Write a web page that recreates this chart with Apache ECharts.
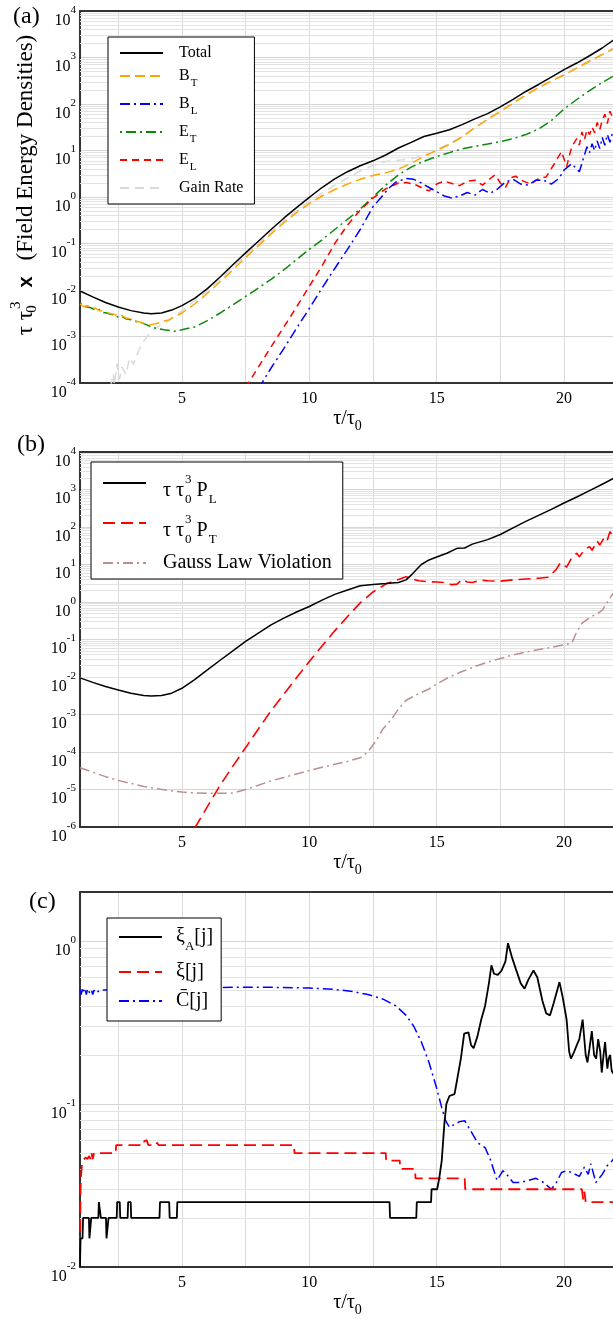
<!DOCTYPE html>
<html><head><meta charset="utf-8">
<script src="https://cdn.jsdelivr.net/npm/echarts@6/dist/echarts.min.js"></script>
<style>html,body{margin:0;padding:0;background:#fff}#c{width:613px;height:1319px}</style>
</head><body><div id="c"></div>
<script>
// ================= DATA =================
const xTickLabels = [5, 10, 15, 20];
const xGridLines = [2.5, 5, 7.5, 10, 12.5, 15, 17.5, 20];

// ---- Panel (a): field energy densities ----
const aX = [1.0,1.5,2.0,2.5,3.0,3.5,3.8,4.2,4.6,5.0,5.5,6.0,6.5,7.0,7.5,8.0,8.5,9.0,9.5,10.0,10.5,11.0,11.5,12.0,12.5,13.0,13.5,14.0,14.5,15.0,15.5,16.0,16.5,17.0,17.5,18.0,18.5,19.0,19.5,20.0,20.5,21.0,21.5,22.0];
const aTotal = [0.0095,0.0071,0.0054,0.0043,0.0036,0.0032,0.0031,0.0032,0.0037,0.0046,0.0066,0.0107,0.019,0.035,0.063,0.112,0.20,0.35,0.59,0.98,1.6,2.45,3.5,4.7,6.0,8.0,11.3,15.0,20.0,23.4,28,36,48,62,87,126,186,263,380,550,760,1090,1600,2500];

const bTX = [1.0,1.15,1.3,1.45,1.6,1.75,1.9,2.05,2.2,2.35,2.5,2.65,2.8,2.95,3.1,3.25,3.4,3.6,3.8,4.0,4.5,5.0,5.5,6.0,6.5,7.0,7.5,8.0,8.5,9.0,9.5,10.0,10.5,11.0,11.5,12.0,12.5,13.0,13.5,14.0,14.5,15.0,15.5,16.0,16.5,17.0,17.5,18.0,18.5,19.0,19.5,20.0,20.5,21.0,21.5,22.0];
const bT = [0.0050,0.0044,0.0046,0.0040,0.0041,0.0036,0.0035,0.0033,0.0031,0.0030,0.0027,0.0028,0.0025,0.0024,0.0023,0.0021,0.0020,0.0018,0.0018,0.0019,0.0023,0.0032,0.0050,0.0085,0.0150,0.027,0.050,0.090,0.16,0.28,0.46,0.72,1.05,1.45,1.9,2.4,2.9,3.3,4.0,5.3,7.5,10.0,13.5,19.5,31,47,68,104,155,225,310,420,590,830,1150,1600];

const bLX = [8.0,8.5,9.0,9.5,10.0,10.5,11.0,11.5,12.0,12.5,12.8,13.1,13.4,13.8,14.1,14.4,14.7,15.0,15.3,15.6,15.9,16.2,16.5,16.8,17.1,17.4,17.7,18.0,18.3,18.6,18.9,19.2,19.5,19.8,20.0,20.3,20.6,20.9,21.0,21.1,21.2,21.3,21.4,21.5,21.6,21.7,21.8,21.9,22.0];
const bL = [7.5e-5,2.1e-4,5.5e-4,1.5e-3,4.0e-3,0.011,0.029,0.075,0.20,0.62,0.95,1.5,2.1,2.5,2.4,2.0,1.6,1.3,1.05,0.95,1.05,1.25,1.1,1.45,1.2,1.5,2.1,2.4,1.9,1.8,2.3,2.3,1.9,2.5,3.8,5.2,3.5,12,9,14,10,16,11,19,13,22,15,24,20];

const eTX = [1.0,1.15,1.3,1.45,1.6,1.75,1.9,2.05,2.2,2.35,2.5,2.65,2.8,3.0,3.2,3.4,3.6,3.8,4.0,4.3,4.7,5.0,5.5,6.0,6.5,7.0,7.5,8.0,8.5,9.0,9.5,10.0,10.5,11.0,11.5,12.0,12.5,13.0,13.5,14.0,14.5,15.0,15.5,16.0,16.5,17.0,17.5,18.0,18.5,19.0,19.5,20.0,20.5,21.0,21.5,22.0];
const eT = [0.0052,0.0045,0.0043,0.0041,0.0037,0.0038,0.0033,0.0032,0.0030,0.0029,0.0026,0.0027,0.0024,0.0023,0.0021,0.0020,0.0018,0.0016,0.0015,0.0014,0.0013,0.0014,0.0016,0.0022,0.0032,0.0048,0.0073,0.011,0.017,0.027,0.045,0.075,0.12,0.20,0.33,0.55,1.0,1.8,3.0,4.4,5.9,7.4,9.0,10.8,12.3,13.8,15.5,18,22,29,44,78,125,195,290,420];

const eLX = [7.5,8.0,8.5,9.0,9.5,10.0,10.5,11.0,11.5,12.0,12.5,13.0,13.5,13.8,14.1,14.4,14.7,15.0,15.3,15.6,15.9,16.2,16.5,16.8,17.1,17.3,17.5,17.7,17.9,18.1,18.4,18.7,19.0,19.3,19.6,19.9,20.1,20.3,20.5,20.6,20.7,20.8,20.9,21.0,21.1,21.2,21.3,21.4,21.5,21.6,21.7,21.8,21.9,22.0];
const eL = [8e-5,2.2e-4,6.0e-4,1.6e-3,4.3e-3,0.012,0.033,0.10,0.25,0.52,0.95,1.5,2.0,2.05,1.9,1.6,1.35,1.9,2.2,1.95,1.75,2.2,2.3,1.8,2.5,3.0,2.0,1.6,2.6,2.8,2.2,1.9,2.5,2.7,5.0,9.5,4.5,12,18,13,25,17,28,22,32,24,40,28,45,60,38,70,52,75];

const gX = [2.2,2.3,2.35,2.45,2.55,2.65,2.8,2.95,3.1,3.3,3.5,3.8,4.1,4.5,5.0,5.5,6.0,6.5,7.0,7.5,8.0,9.0,10.0,11.0,12.0,12.5,13.0,13.5,14.0,14.5,15.0,16.0,17.0,18.0,19.0,20.0,21.0,22.0];
const gain = [8e-5,1.6e-4,9e-5,2.6e-4,1.2e-4,2.2e-4,1.5e-4,3.5e-4,2.5e-4,5e-4,8e-4,1.3e-3,1.7e-3,2.2e-3,3.6e-3,5.8e-3,9.5e-3,0.017,0.031,0.056,0.10,0.31,0.80,1.8,3.6,4.8,5.8,6.2,6.6,7.8,10.2,20,47,108,232,430,850,1650];

// ---- Panel (b): pressures & Gauss law ----
const pLX = [1.0,1.5,2.0,2.5,3.0,3.5,3.8,4.2,4.6,5.0,5.5,6.0,6.5,7.0,7.5,8.0,8.5,9.0,9.5,10.0,10.5,11.0,11.5,12.0,12.5,13.0,13.5,13.8,14.0,14.2,14.4,14.7,15.0,15.4,15.8,16.1,16.4,17.0,17.5,18.0,18.5,19.0,19.5,20.0,20.5,21.0,21.5,22.0];
const pL = [0.0095,0.0072,0.0056,0.0045,0.0037,0.0032,0.0031,0.0032,0.0037,0.0050,0.0085,0.0155,0.028,0.050,0.089,0.148,0.245,0.37,0.54,0.76,1.12,1.6,2.1,2.7,2.95,3.1,3.3,3.9,5.2,7.2,10,13.2,15.8,20,27,27.5,35,46,63,95,141,204,295,437,630,933,1380,2090];

const pTX = [5.5,6.0,6.5,7.0,7.5,8.0,8.5,9.0,9.5,10.0,10.5,11.0,11.5,12.0,12.5,13.0,13.5,13.8,14.0,14.3,14.6,15.0,15.3,15.6,15.8,16.0,16.2,16.4,16.7,17.0,17.5,18.0,18.5,19.0,19.4,19.7,19.85,20.0,20.1,20.3,20.5,20.6,20.8,21.0,21.1,21.3,21.4,21.6,21.7,21.8,21.9,22.0];
const pT = [9.3e-7,3.5e-6,1.3e-5,4.2e-5,1.3e-4,4.1e-4,1.26e-3,3.5e-3,9.5e-3,0.026,0.067,0.17,0.41,0.95,1.85,3.0,4.0,4.7,4.2,3.7,3.5,3.4,3.3,2.9,3.0,4.0,3.4,3.3,3.8,3.7,3.6,3.9,4.1,4.3,4.6,7.5,11,9.5,8.5,15,20,16,25,30,24,42,33,55,45,75,60,90];

const gaX = [1.0,1.5,2.0,2.5,3.0,3.5,4.0,4.5,5.0,5.5,6.0,6.5,7.0,7.5,8.0,8.5,9.0,9.5,10.0,10.5,11.0,11.5,12.0,12.3,12.6,12.9,13.2,13.5,13.8,14.3,14.7,15.0,15.5,16.0,16.5,17.0,17.5,18.0,18.5,19.0,19.5,20.0,20.3,20.5,20.7,21.0,21.3,21.5,21.7,21.9,22.0];
const gauss = [3.8e-5,2.9e-5,2.2e-5,1.75e-5,1.45e-5,1.2e-5,1.05e-5,9.3e-6,8.6e-6,8.1e-6,7.9e-6,7.9e-6,8.1e-6,1.0e-5,1.3e-5,1.7e-5,2.1e-5,2.6e-5,3.2e-5,3.9e-5,4.7e-5,5.6e-5,7.0e-5,1.0e-4,1.9e-4,4.2e-4,7.1e-4,1.4e-3,2.4e-3,3.6e-3,4.8e-3,6.5e-3,0.010,0.014,0.019,0.025,0.031,0.039,0.046,0.054,0.062,0.072,0.08,0.16,0.27,0.38,0.49,0.6,1.0,1.6,1.9];

// ---- Panel (c): xi_A, xi, C-bar ----
const xiAX = [1.0,1.02,1.1,1.12,1.35,1.37,1.42,1.44,1.72,1.74,1.8,1.82,2.02,2.04,2.1,2.12,2.44,2.46,2.56,2.58,2.87,2.89,2.99,3.01,4.12,4.14,4.5,4.52,4.8,4.82,13.15,13.17,14.2,14.22,14.78,14.8,15.02,15.1,15.2,15.3,15.38,15.5,15.7,15.8,15.95,16.08,16.25,16.35,16.45,16.6,16.75,16.9,17.05,17.15,17.25,17.4,17.55,17.7,17.8,17.95,18.1,18.3,18.45,18.6,18.8,18.95,19.15,19.3,19.45,19.6,19.82,19.95,20.1,20.2,20.27,20.4,20.5,20.6,20.73,20.85,20.92,21.0,21.09,21.18,21.26,21.34,21.42,21.48,21.55,21.61,21.7,21.75,21.81,21.87,21.93,22.0];
const xiA = [0.01,0.015,0.015,0.02,0.02,0.015,0.015,0.02,0.02,0.025,0.025,0.02,0.02,0.015,0.015,0.02,0.02,0.025,0.025,0.02,0.02,0.025,0.025,0.02,0.02,0.025,0.025,0.02,0.02,0.025,0.025,0.02,0.02,0.025,0.025,0.03,0.03,0.035,0.045,0.075,0.1,0.112,0.115,0.14,0.19,0.27,0.275,0.23,0.22,0.26,0.33,0.4,0.55,0.71,0.63,0.62,0.66,0.75,0.97,0.8,0.68,0.55,0.51,0.58,0.66,0.6,0.43,0.36,0.35,0.42,0.56,0.45,0.33,0.21,0.19,0.21,0.23,0.25,0.33,0.2,0.18,0.22,0.28,0.2,0.19,0.25,0.21,0.156,0.2,0.24,0.165,0.19,0.2,0.16,0.154,0.17];

const xiX = [1.0,1.02,1.04,1.08,1.12,1.18,1.22,1.3,1.35,1.42,1.45,1.5,1.55,2.4,2.42,3.5,3.52,3.62,3.68,4.0,4.02,4.08,9.4,9.42,13.0,13.02,13.55,13.57,14.15,14.17,16.1,16.12,20.7,20.75,20.8,20.85,22.0];
const xi = [0.01,0.03,0.036,0.043,0.045,0.044,0.047,0.046,0.048,0.046,0.05,0.046,0.05,0.05,0.056,0.056,0.059,0.06,0.056,0.056,0.058,0.056,0.056,0.05,0.05,0.045,0.045,0.04,0.04,0.035,0.035,0.03,0.03,0.026,0.029,0.025,0.025];

const cX = [1.0,1.05,1.1,1.15,1.2,1.25,1.3,1.38,1.45,1.5,1.55,1.6,1.7,1.8,2.0,3.0,5.0,7.0,8.6,10.0,11.0,11.7,12.3,12.9,13.4,13.8,14.1,14.4,14.7,15.0,15.2,15.35,15.5,15.7,15.9,16.1,16.3,16.6,16.9,17.1,17.37,17.6,17.75,18.0,18.3,18.6,18.9,19.2,19.5,19.7,19.9,20.1,20.3,20.6,20.8,20.95,21.05,21.25,21.5,21.7,21.9,22.0];
const cbar = [0.5,0.47,0.52,0.48,0.5,0.47,0.51,0.48,0.5,0.47,0.5,0.48,0.49,0.5,0.5,0.505,0.515,0.52,0.52,0.515,0.505,0.49,0.47,0.44,0.40,0.35,0.30,0.24,0.18,0.125,0.095,0.079,0.072,0.075,0.078,0.079,0.07,0.058,0.054,0.046,0.034,0.039,0.037,0.033,0.033,0.034,0.035,0.033,0.03,0.033,0.038,0.039,0.038,0.036,0.041,0.037,0.043,0.033,0.037,0.042,0.045,0.048];

// ================= CHART =================
const FONT = 'Liberation Serif';
const zip = (xs, ys) => xs.map((x, i) => [x, ys[i]]);

function minorLines(minExp, maxExp, maxVal) {
  const out = [];
  for (let e = minExp; e < maxExp; e++) {
    for (let m = 2; m <= 9; m++) {
      const v = m * Math.pow(10, e);
      if (v < maxVal) out.push({ yAxis: v });
    }
  }
  return out;
}
function minorMark(minExp, maxExp, maxVal) {
  return {
    silent: true, symbol: 'none', z: 1, animation: false,
    label: { show: false }, emphasis: { disabled: true },
    lineStyle: { color: '#e3e3e3', width: 1, type: 'solid' },
    data: minorLines(minExp, maxExp, maxVal)
  };
}

const labelRich = {
  b: { fontFamily: FONT, fontSize: 16, lineHeight: 24, verticalAlign: 'bottom', color: '#000' },
  s: { fontFamily: FONT, fontSize: 11, lineHeight: 11, verticalAlign: 'top', color: '#000' }
};
function logLabel(v) {
  const e = Math.log10(v), r = Math.round(e);
  if (Math.abs(e - r) > 0.01) return '';
  return '{b|10}{s|' + r + '}';
}
const xNameRich = {
  t: { fontFamily: FONT, fontSize: 20, lineHeight: 20, verticalAlign: 'top', color: '#000' },
  s: { fontFamily: FONT, fontSize: 14, lineHeight: 14, padding: [10, 0, 0, 0], verticalAlign: 'top', color: '#000' }
};

function xAxes(gi) {
  return [{
    type: 'value', gridIndex: gi, min: 1, max: 22, position: 'bottom',
    axisLine: { show: true, onZero: false, lineStyle: { color: '#333', width: 2 } },
    axisTick: { show: false, customValues: xGridLines },
    axisLabel: { customValues: xTickLabels, margin: 8, fontFamily: FONT, fontSize: 16, color: '#000' },
    splitLine: { show: true, lineStyle: { color: '#dadada', width: 1 } },
    name: '{t|τ/τ}{s|0}', nameLocation: 'middle', nameGap: 26,
    nameTextStyle: { rich: xNameRich }
  }, {
    type: 'value', gridIndex: gi, min: 1, max: 22, position: 'top',
    axisLine: { show: true, onZero: false, lineStyle: { color: '#333', width: 2 } },
    axisTick: { show: false }, axisLabel: { show: false }, splitLine: { show: false }
  }];
}
function yAxis(gi, min, max, extra) {
  return Object.assign({
    type: 'log', logBase: 10, gridIndex: gi, min: min, max: max, splitNumber: 10,
    axisLine: { show: true, onZero: false, lineStyle: { color: '#333', width: 2 } },
    axisTick: { show: false },
    axisLabel: { margin: 4, padding: [11, 0, 0, 0], formatter: logLabel, rich: labelRich },
    splitLine: { show: true, lineStyle: { color: '#d5d5d5', width: 1 } },
    minorTick: { show: false }, minorSplitLine: { show: false }
  }, extra || {});
}

function line(name, xs, ys, xi, yi, color, dash, width, extra) {
  return Object.assign({
    type: 'line', name: name, data: zip(xs, ys), xAxisIndex: xi, yAxisIndex: yi,
    symbol: 'none', showSymbol: false, clip: true, z: 2, animation: false,
    emphasis: { disabled: true }, silent: true,
    lineStyle: { color: color, width: width || 1.5, type: dash || 'solid' },
    itemStyle: { color: color }
  }, extra || {});
}

const legendBase = {
  orient: 'vertical', selectedMode: false, backgroundColor: '#fff',
  borderColor: '#000', borderWidth: 1, borderRadius: 0,
  itemWidth: 43, itemHeight: 14, z: 10,
  itemStyle: { opacity: 0 }
};

const yNameRich = {
  t0: { fontFamily: FONT, fontSize: 23, lineHeight: 23, padding: [6, 0, 0, 24], verticalAlign: 'top', color: '#000' },
  sb: { fontFamily: FONT, fontSize: 15, lineHeight: 15, padding: [16, 0, 0, 2], verticalAlign: 'top', width: 0.01, color: '#000' },
  sp: { fontFamily: FONT, fontSize: 15, lineHeight: 15, padding: [0, 0, 0, 0], verticalAlign: 'top', color: '#000' },
  xx: { fontFamily: 'Liberation Sans', fontWeight: 'bold', fontSize: 20, lineHeight: 20, padding: [8, 16, 0, 14], verticalAlign: 'top', color: '#000' },
  t: { fontFamily: FONT, fontSize: 23, lineHeight: 23, padding: [6, 0, 0, 0], verticalAlign: 'top', color: '#000' }
};
const titleStyle = { fontFamily: FONT, fontSize: 24, fontWeight: 'normal', color: '#000' };

const option = {
  animation: false,
  backgroundColor: '#fff',
  title: [
    { text: '(a)', left: 13, top: 5, padding: 0, textStyle: titleStyle },
    { text: '(b)', left: 17, top: 433, padding: 0, textStyle: titleStyle },
    { text: '(c)', left: 29, top: 890, padding: 0, textStyle: titleStyle }
  ],
  grid: [
    { left: 80, right: -2, top: 11, height: 372, containLabel: false, outerBoundsMode: 'none' },
    { left: 80, right: -2, top: 452, height: 375, containLabel: false, outerBoundsMode: 'none' },
    { left: 80, right: -2, top: 892, height: 375, containLabel: false, outerBoundsMode: 'none' }
  ],
  xAxis: [].concat(xAxes(0), xAxes(1), xAxes(2)),
  yAxis: [
    yAxis(0, 1e-4, 1e4, {
      name: '{t0|τ τ}{sb|0}{sp|3}{xx|x}{t|(Field Energy Densities)}',
      nameLocation: 'middle', nameRotate: 90, nameGap: 43,
      nameTextStyle: { rich: yNameRich }
    }),
    yAxis(1, 1e-6, 9999.9),
    yAxis(2, 0.01, 2)
  ],
  legend: [
    Object.assign({}, legendBase, {
      left: 108, top: 37, padding: [8, 11, 8, 11], itemGap: 7,
      data: ['Total', 'B_T', 'B_L', 'E_T', 'E_L', 'Gain Rate'],
      formatter: n => n.indexOf('_') > 0 ? '{m|' + n.split('_')[0] + '}{s|' + n.split('_')[1] + '}' : '{p|' + n + '}',
      textStyle: {
        padding: [0, 0, 0, 11], color: '#000', fontFamily: FONT, fontSize: 16,
        rich: {
          p: { fontFamily: FONT, fontSize: 16, lineHeight: 16, color: '#000' },
          m: { fontFamily: FONT, fontSize: 16, lineHeight: 16, verticalAlign: 'top', color: '#000' },
          s: { fontFamily: FONT, fontSize: 11, lineHeight: 11, padding: [10, 0, 0, 1], verticalAlign: 'top', color: '#000' }
        }
      }
    }),
    Object.assign({}, legendBase, {
      left: 91, top: 462, padding: [11, 11, 6, 11], itemGap: 7,
      data: ['P_L', 'P_T', 'Gauss Law Violation'],
      formatter: n => n.indexOf('P_') === 0 ? '{m|τ τ}{sb|0}{sp|3}{m| P}{sb2|' + n.slice(2) + '}' : '{p|' + n + '}',
      textStyle: {
        padding: [0, 0, 0, 12], color: '#000', fontFamily: FONT, fontSize: 20,
        rich: {
          p: { fontFamily: FONT, fontSize: 20, lineHeight: 20, color: '#000' },
          m: { fontFamily: FONT, fontSize: 20, lineHeight: 20, padding: [8, 0, 0, 0], verticalAlign: 'top', color: '#000' },
          sp: { fontFamily: FONT, fontSize: 13, lineHeight: 13, verticalAlign: 'top', color: '#000' },
          sb: { fontFamily: FONT, fontSize: 13, lineHeight: 13, padding: [20, 0, 0, 1], width: 0.01, verticalAlign: 'top', color: '#000' },
          sb2: { fontFamily: FONT, fontSize: 13, lineHeight: 13, padding: [20, 0, 0, 1], verticalAlign: 'top', color: '#000' }
        }
      }
    }),
    Object.assign({}, legendBase, {
      left: 107, top: 918, padding: [9, 8, 10, 11], itemGap: 9,
      data: ['xi_A', 'xi', 'Cbar'],
      formatter: n => n === 'xi_A' ? '{m|ξ}{s|A}{m|[j]}' : (n === 'xi' ? '{p|ξ[j]}' : '{p|C̄[j]}'),
      textStyle: {
        padding: [0, 0, 0, 9], color: '#000', fontFamily: FONT, fontSize: 20,
        rich: {
          p: { fontFamily: FONT, fontSize: 20, lineHeight: 20, color: '#000' },
          m: { fontFamily: FONT, fontSize: 20, lineHeight: 20, verticalAlign: 'top', color: '#000' },
          s: { fontFamily: FONT, fontSize: 13, lineHeight: 13, padding: [13, 0, 0, 0], verticalAlign: 'top', color: '#000' }
        }
      }
    })
  ],
  series: [
    // (a)
    line('Gain Rate', gX, gain, 0, 0, '#d9d9d9', [9, 6], 1.5),
    line('E_T', eTX, eT, 0, 0, '#0a8a0a', [2, 4, 10, 4], 1.5),
    line('E_L', eLX, eL, 0, 0, '#ff0000', [7, 5], 1.5),
    line('B_L', bLX, bL, 0, 0, '#0000ff', [10, 4, 2, 4], 1.5),
    line('B_T', bTX, bT, 0, 0, '#ffa500', [10, 5], 1.5),
    line('Total', aX, aTotal, 0, 0, '#000000', 'solid', 1.5, { markLine: minorMark(-4, 4, 1e4) }),
    // (b)
    line('Gauss Law Violation', gaX, gauss, 2, 1, '#bc8f8f', [10, 4, 2, 4], 1.5),
    line('P_T', pTX, pT, 2, 1, '#ff0000', [12, 6], 1.6),
    line('P_L', pLX, pL, 2, 1, '#000000', 'solid', 1.5, { markLine: minorMark(-6, 4, 9999) }),
    // (c)
    line('Cbar', cX, cbar, 4, 2, '#0000ff', [10, 4, 2, 4], 1.5),
    line('xi', xiX, xi, 4, 2, '#ff0000', [12, 6], 1.8),
    line('xi_A', xiAX, xiA, 4, 2, '#000000', 'solid', 1.8, { markLine: minorMark(-2, 1, 2) })
  ]
};

const chart = echarts.init(document.getElementById('c'), null, { renderer: 'canvas', width: 613, height: 1319 });
chart.setOption(option);
</script>
</body></html>
